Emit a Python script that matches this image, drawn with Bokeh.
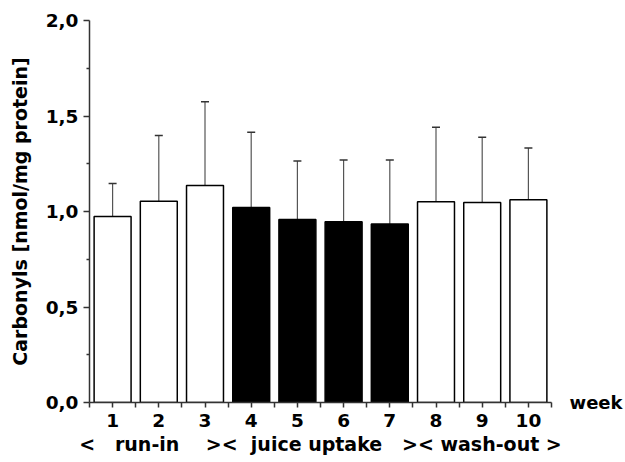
from bokeh.plotting import figure
from bokeh.models import (Range1d, FixedTicker, ColumnDataSource, Whisker, TeeHead, LinearAxis)
from bokeh.embed import file_html
from bokeh.resources import INLINE

# --- data ---
weeks = [1, 2, 3, 4, 5, 6, 7, 8, 9, 10]
carbonyls = [0.974, 1.054, 1.136, 1.021, 0.958, 0.946, 0.935, 1.051, 1.047, 1.061]
sd = [0.173, 0.344, 0.438, 0.394, 0.307, 0.323, 0.334, 0.390, 0.342, 0.272]
phase = ["run-in"] * 3 + ["juice uptake"] * 4 + ["wash-out"] * 3
y_ticks = [0.0, 0.5, 1.0, 1.5, 2.0]
y_tick_labels = ["0,0", "0,5", "1,0", "1,5", "2,0"]
phase_line = ["<", 3, "run-in", 4, "><", 2, "juice uptake", 3, "><", 1, "wash-out", 1, ">"]

FONT = "DejaVu Sans"
NB = "\u00a0"
phase_text = "".join(NB * s if isinstance(s, int) else s.replace(" ", NB) for s in phase_line)

fill = ["black" if ph == "juice uptake" else "white" for ph in phase]
upper = [m + s for m, s in zip(carbonyls, sd)]
src = ColumnDataSource(dict(x=weeks, top=carbonyls, upper=upper, fill=fill))

p = figure(width=625, height=462, output_backend="svg", toolbar_location=None,
           x_range=Range1d(0.5, 10.5), y_range=Range1d(0, 2.0),
           min_border_left=89, min_border_right=65, min_border_top=20, min_border_bottom=60)
p.outline_line_color = None
p.xgrid.visible = False
p.ygrid.visible = False
p.background_fill_color = "white"

p.vbar(x="x", top="top", bottom=0, width=0.8, source=src,
       fill_color="fill", line_color="black", line_width=1.5)

w = Whisker(source=src, base="x", lower="top", upper="upper",
            line_color="#555555", line_width=1.2,
            upper_head=TeeHead(size=8, line_color="#333333", line_width=1.5),
            lower_head=None)
p.add_layout(w)

ya = p.yaxis[0]
xa = p.xaxis[0]
ya.ticker = FixedTicker(ticks=y_ticks, minor_ticks=[0.25, 0.75, 1.25, 1.75])
ya.major_label_overrides = {t: l for t, l in zip(y_ticks, y_tick_labels)}
ya.axis_label = "Carbonyls [nmol/mg protein]"
xa.axis_label = phase_text
for ax in (ya, xa):
    ax.axis_line_color = "#333333"
    ax.axis_line_width = 1.5
    ax.major_tick_line_color = "#333333"
    ax.minor_tick_line_color = "#333333"
    ax.major_tick_line_width = 1.5
    ax.minor_tick_line_width = 1.5
    ax.major_tick_in = 0
    ax.minor_tick_in = 0
    ax.major_label_text_font = FONT
    ax.major_label_text_font_style = "bold"
    ax.major_label_text_font_size = "18.5px"
    ax.major_label_text_color = "black"
    ax.axis_label_text_font = FONT
    ax.axis_label_text_font_style = "bold"
    ax.axis_label_text_font_size = "19px"
    ax.axis_label_text_color = "black"
ya.major_tick_out = 6
ya.minor_tick_out = 3
ya.major_label_standoff = 5
ya.axis_label_standoff = 12

xa.ticker = FixedTicker(ticks=weeks, minor_ticks=[k + 0.5 for k in range(0, 11)])
xa.major_tick_out = 5
xa.minor_tick_out = 5
xa.major_label_standoff = 6
xa.axis_label_standoff = 3

# "week" unit label drawn as the only tick label of an unlined right axis at y = 0
wk = LinearAxis(ticker=FixedTicker(ticks=[0]), major_label_overrides={0: "week"},
                axis_line_color=None, major_tick_line_color=None, minor_tick_line_color=None,
                major_label_standoff=12, major_label_text_font=FONT,
                major_label_text_font_style="bold", major_label_text_font_size="18px",
                major_label_text_color="black")
p.add_layout(wk, "right")

open("out.html", "w").write(file_html(p, INLINE))
